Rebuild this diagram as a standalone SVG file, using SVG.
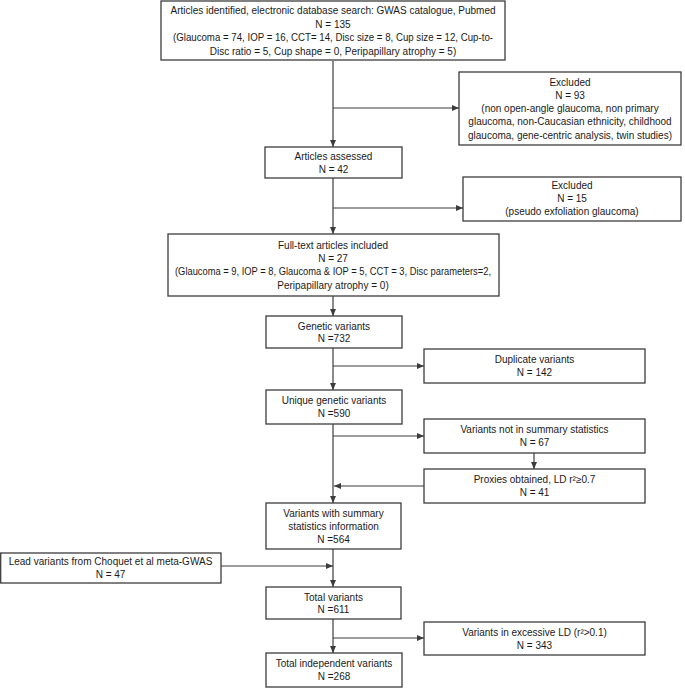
<svg xmlns="http://www.w3.org/2000/svg" width="685" height="688" viewBox="0 0 685 688">
<style>
.box{fill:#ffffff;stroke:#3c3c3c;stroke-width:1.3}
.t{font-family:"Liberation Sans",Arial,sans-serif;font-size:10px;fill:#1a1a1a;text-anchor:middle}
.c{fill:none;stroke:#3c3c3c;stroke-width:1.2}
</style>
<defs>
<marker id="ah" markerUnits="userSpaceOnUse" markerWidth="7" markerHeight="6" refX="7" refY="3" orient="auto">
<path d="M0,0 L7,3 L0,6 z" fill="#3c3c3c"/>
</marker>
</defs>
<rect width="685" height="688" fill="#ffffff"/>
<g id="connectors">
<line class="c" x1="333" y1="61" x2="333" y2="147" marker-end="url(#ah)"/>
<line class="c" x1="333" y1="108" x2="459" y2="108" marker-end="url(#ah)"/>
<line class="c" x1="333" y1="178" x2="333" y2="234" marker-end="url(#ah)"/>
<line class="c" x1="333" y1="208" x2="463" y2="208" marker-end="url(#ah)"/>
<line class="c" x1="333" y1="296" x2="333" y2="316" marker-end="url(#ah)"/>
<line class="c" x1="333" y1="348" x2="333" y2="390" marker-end="url(#ah)"/>
<line class="c" x1="333" y1="366" x2="424" y2="366" marker-end="url(#ah)"/>
<line class="c" x1="333" y1="424" x2="333" y2="503" marker-end="url(#ah)"/>
<line class="c" x1="333" y1="436" x2="424" y2="436" marker-end="url(#ah)"/>
<line class="c" x1="534" y1="453" x2="534" y2="469" marker-end="url(#ah)"/>
<line class="c" x1="424" y1="486" x2="334" y2="486" marker-end="url(#ah)"/>
<line class="c" x1="333" y1="549" x2="333" y2="587" marker-end="url(#ah)"/>
<line class="c" x1="221" y1="566" x2="333" y2="566" marker-end="url(#ah)"/>
<line class="c" x1="333" y1="619" x2="333" y2="653" marker-end="url(#ah)"/>
<line class="c" x1="333" y1="638" x2="424" y2="638" marker-end="url(#ah)"/>
</g>
<g id="identified">
<rect class="box" x="161" y="1" width="344" height="59"/>
<text class="t" x="333" y="14" textLength="325" lengthAdjust="spacingAndGlyphs">Articles identified, electronic database search: GWAS catalogue, Pubmed</text>
<text class="t" x="333" y="27.5">N = 135</text>
<text class="t" x="333" y="41" textLength="320" lengthAdjust="spacingAndGlyphs">(Glaucoma = 74, IOP = 16, CCT= 14, Disc size = 8, Cup size = 12, Cup-to-</text>
<text class="t" x="333" y="54.5">Disc ratio = 5, Cup shape = 0, Peripapillary atrophy = 5)</text>
</g>
<g id="excluded1">
<rect class="box" x="459" y="72" width="222" height="73"/>
<text class="t" x="570" y="85.5">Excluded</text>
<text class="t" x="570" y="98.75">N = 93</text>
<text class="t" x="570" y="112">(non open-angle glaucoma, non primary</text>
<text class="t" x="570" y="125.25">glaucoma, non-Caucasian ethnicity, childhood</text>
<text class="t" x="570" y="138.5">glaucoma, gene-centric analysis, twin studies)</text>
</g>
<g id="assessed">
<rect class="box" x="265" y="147" width="137" height="31"/>
<text class="t" x="333.5" y="159.5">Articles  assessed</text>
<text class="t" x="333.5" y="172.5">N = 42</text>
</g>
<g id="excluded2">
<rect class="box" x="463" y="177" width="218" height="44"/>
<text class="t" x="572" y="188.5">Excluded</text>
<text class="t" x="572" y="201.5">N = 15</text>
<text class="t" x="572" y="214.5">(pseudo exfoliation glaucoma)</text>
</g>
<g id="fulltext">
<rect class="box" x="168" y="234" width="331" height="62"/>
<text class="t" x="333" y="248.5">Full-text articles included</text>
<text class="t" x="333" y="261.5">N = 27</text>
<text class="t" x="333" y="275" textLength="316" lengthAdjust="spacingAndGlyphs">(Glaucoma = 9, IOP = 8, Glaucoma &amp; IOP = 5, CCT = 3, Disc parameters=2,</text>
<text class="t" x="333" y="288.5">Peripapillary atrophy  = 0)</text>
</g>
<g id="genetic">
<rect class="box" x="266" y="316" width="136" height="32"/>
<text class="t" x="334" y="329.5">Genetic  variants</text>
<text class="t" x="334" y="342">N =732</text>
</g>
<g id="duplicate">
<rect class="box" x="424" y="349" width="221" height="34"/>
<text class="t" x="534.5" y="363">Duplicate variants</text>
<text class="t" x="534.5" y="376">N = 142</text>
</g>
<g id="unique">
<rect class="box" x="266" y="390" width="136" height="34"/>
<text class="t" x="334" y="404">Unique genetic variants</text>
<text class="t" x="334" y="417">N =590</text>
</g>
<g id="notinsummary">
<rect class="box" x="424" y="419" width="221" height="34"/>
<text class="t" x="534.5" y="433">Variants not in summary statistics</text>
<text class="t" x="534.5" y="446">N = 67</text>
</g>
<g id="proxies">
<rect class="box" x="424" y="469" width="221" height="34"/>
<text class="t" x="534.5" y="483">Proxies obtained, LD r²≥0.7</text>
<text class="t" x="534.5" y="496">N = 41</text>
</g>
<g id="withsummary">
<rect class="box" x="266" y="503" width="135" height="46"/>
<text class="t" x="333.5" y="517">Variants with summary</text>
<text class="t" x="333.5" y="530">statistics information</text>
<text class="t" x="333.5" y="543">N =564</text>
</g>
<g id="lead">
<rect class="box" x="0.7" y="553" width="220.3" height="30"/>
<text class="t" x="110.5" y="565">Lead variants from Choquet et al meta-GWAS</text>
<text class="t" x="110.5" y="578">N = 47</text>
</g>
<g id="total">
<rect class="box" x="266" y="587" width="135" height="32"/>
<text class="t" x="333.5" y="600.5">Total variants</text>
<text class="t" x="333.5" y="613">N =611</text>
</g>
<g id="excessiveld">
<rect class="box" x="424" y="622" width="221" height="33"/>
<text class="t" x="534.5" y="635.5">Variants in excessive LD (r²&gt;0.1)</text>
<text class="t" x="534.5" y="648.5">N = 343</text>
</g>
<g id="independent">
<rect class="box" x="266" y="653" width="136" height="34"/>
<text class="t" x="334" y="667">Total independent variants</text>
<text class="t" x="334" y="680">N =268</text>
</g>
</svg>
